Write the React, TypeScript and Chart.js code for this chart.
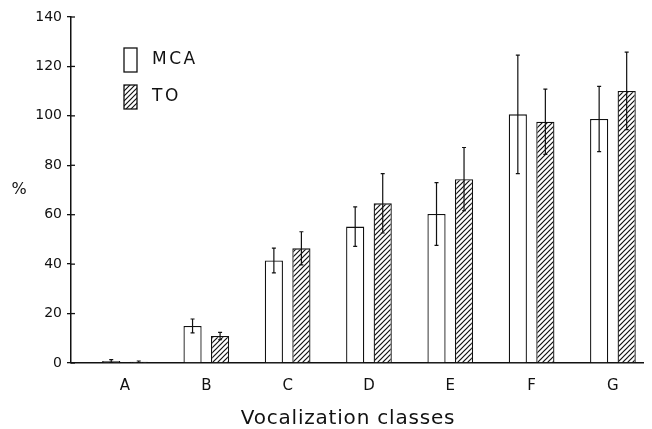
import React, { useEffect, useRef } from 'react';
import { Chart, registerables } from 'chart.js';

Chart.register(...registerables);

// ---- Data ----
const categories = ['A', 'B', 'C', 'D', 'E', 'F', 'G'];
const seriesLabels = ['MCA', 'TO'];
const mcaValues = [0.8, 15.0, 41.5, 55.2, 60.3, 100.6, 98.7];
const mcaErrors = [0.6, 2.8, 5.0, 8.0, 12.7, 24.0, 13.2];
const toValues = [0.5, 10.9, 46.4, 64.6, 74.4, 97.6, 110.1];
const toErrors = [0.3, 1.5, 6.7, 12.0, 12.8, 13.2, 15.7];
const yTicks = [0, 20, 40, 60, 80, 100, 120, 140];
const xTitle = 'Vocalization classes';
const yTitle = '%';

const FONT = "'DejaVu Sans', 'Liberation Sans', sans-serif";
const INK = '#111';

function makeHatch(): CanvasPattern | string {
  const c = document.createElement('canvas');
  const s = 5;
  c.width = s;
  c.height = s;
  const g = c.getContext('2d');
  if (!g) return '#888';
  g.fillStyle = '#fff';
  g.fillRect(0, 0, s, s);
  g.strokeStyle = INK;
  g.lineWidth = 1.2;
  g.beginPath();
  g.moveTo(-1, 1); g.lineTo(1, -1);
  g.moveTo(0, s); g.lineTo(s, 0);
  g.moveTo(s - 1, s + 1); g.lineTo(s + 1, s - 1);
  g.stroke();
  const p = g.createPattern(c, 'repeat');
  return p || '#888';
}

export default function App() {
  const ref = useRef<HTMLCanvasElement | null>(null);

  useEffect(() => {
    document.body.style.margin = '0';
    const canvas = ref.current;
    if (!canvas) return;
    const hatch = makeHatch();
    const errorsByDataset = [mcaErrors, toErrors];

    const errorBars = {
      id: 'errorBars',
      afterDatasetsDraw(chart: any) {
        const ctx = chart.ctx;
        const yScale = chart.scales.y;
        ctx.save();
        ctx.strokeStyle = INK;
        ctx.lineWidth = 1.2;
        chart.data.datasets.forEach((ds: any, di: number) => {
          const meta = chart.getDatasetMeta(di);
          const errs = errorsByDataset[di];
          meta.data.forEach((bar: any, i: number) => {
            const v = ds.data[i].y;
            const e = errs[i];
            const x = bar.x;
            const yTop = yScale.getPixelForValue(v + e);
            const yBot = yScale.getPixelForValue(Math.max(0, v - e));
            ctx.beginPath();
            ctx.moveTo(x, yTop); ctx.lineTo(x, yBot);
            ctx.moveTo(x - 2, yTop); ctx.lineTo(x + 2, yTop);
            ctx.moveTo(x - 2, yBot); ctx.lineTo(x + 2, yBot);
            ctx.stroke();
          });
        });
        ctx.restore();
      },
    };

    const decorations = {
      id: 'decorations',
      afterDraw(chart: any) {
        const ctx = chart.ctx;
        const area = chart.chartArea;
        const yScale = chart.scales.y;
        ctx.save();
        // inner halves of the y tick marks
        ctx.strokeStyle = INK;
        ctx.lineWidth = 1.3;
        yScale.ticks.forEach((t: any) => {
          const y = yScale.getPixelForValue(t.value);
          ctx.beginPath();
          ctx.moveTo(area.left, y);
          ctx.lineTo(area.left + 4, y);
          ctx.stroke();
        });
        // legend
        const lx = area.left + 53;
        const ly = area.top + 31;
        const fills = [chart.data.datasets[0].backgroundColor, chart.data.datasets[1].backgroundColor];
        ctx.font = `17px ${FONT}`;
        (ctx as any).letterSpacing = '2.5px';
        ctx.textAlign = 'left';
        ctx.textBaseline = 'middle';
        chart.data.datasets.forEach((ds: any, i: number) => {
          const by = ly + i * 37;
          ctx.fillStyle = fills[i];
          ctx.fillRect(lx, by, 13, 24);
          ctx.lineWidth = 1.3;
          ctx.strokeStyle = INK;
          ctx.strokeRect(lx, by, 13, 24);
          ctx.fillStyle = INK;
          ctx.fillText(ds.label, lx + 28, by + 12);
        });
        // axis titles
        ctx.font = `20px ${FONT}`;
        (ctx as any).letterSpacing = '0.8px';
        ctx.textAlign = 'center';
        ctx.fillText(xTitle, 348, 419);
        ctx.font = `16px ${FONT}`;
        (ctx as any).letterSpacing = '0px';
        ctx.fillText(yTitle, 19, (area.top + area.bottom) / 2);
        ctx.restore();
      },
    };

    const chart = new Chart(canvas, {
      type: 'bar',
      data: {
        datasets: [
          {
            label: seriesLabels[0],
            data: mcaValues.map((v, i) => ({ x: i + 1, y: v })),
            backgroundColor: '#fff',
            borderColor: INK,
            borderWidth: 1.3,
            categoryPercentage: 0.677,
            barPercentage: 0.66,
          },
          {
            label: seriesLabels[1],
            data: toValues.map((v, i) => ({ x: i + 1, y: v })),
            backgroundColor: hatch as any,
            borderColor: INK,
            borderWidth: 1.3,
            categoryPercentage: 0.677,
            barPercentage: 0.66,
          },
        ],
      },
      options: {
        responsive: false,
        animation: false,
        layout: { padding: { top: 17, right: 9, left: 0, bottom: 0 } },
        plugins: {
          legend: { display: false },
          tooltip: { enabled: false },
        },
        scales: {
          x: {
            type: 'linear',
            offset: false,
            min: 0.336,
            max: 7.37,
            afterBuildTicks: (scale: any) => {
              scale.ticks = categories.map((_, i) => ({ value: i + 1 }));
            },
            afterFit: (scale: any) => { scale.height = 66; },
            ticks: {
              callback: (v: any) => categories[Math.round(Number(v)) - 1] ?? '',
              color: INK,
              font: { family: FONT, size: 15 },
              padding: 14,
              maxRotation: 0,
              autoSkip: false,
            },
            grid: { display: false, drawTicks: false, offset: false },
            border: { display: true, color: INK, width: 1.5 },
          },
          y: {
            min: 0,
            max: 140,
            afterBuildTicks: (scale: any) => {
              scale.ticks = yTicks.map((v) => ({ value: v }));
            },
            afterFit: (scale: any) => { scale.width = 71; },
            ticks: {
              color: INK,
              font: { family: FONT, size: 14 },
              padding: 5,
            },
            grid: { drawOnChartArea: false, drawTicks: true, tickLength: 4, color: INK, lineWidth: 1.3 },
            border: { display: true, color: INK, width: 1.5 },
          },
        },
      },
      plugins: [errorBars, decorations],
    } as any);

    return () => chart.destroy();
  }, []);

  return (
    <div style={{ width: 652, height: 429 }}>
      <canvas ref={ref} width={652} height={429} />
    </div>
  );
}
